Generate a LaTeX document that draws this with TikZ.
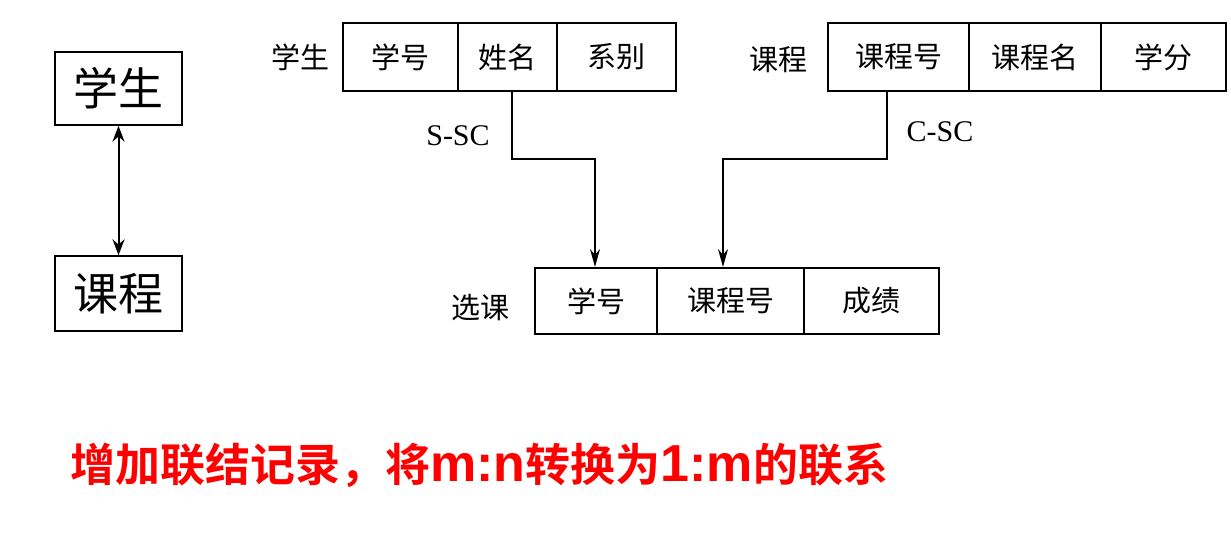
\documentclass[tikz,border=0pt]{standalone}
\usepackage{fontspec}
\setmainfont{Liberation Serif}
\newfontfamily\cjk{Noto Sans CJK SC}
\newfontfamily\cjkb{Noto Sans CJK SC Bold}
\newfontfamily\latb{Liberation Sans}
\usetikzlibrary{arrows.meta}
\begin{document}
\begin{tikzpicture}[x=0.5pt,y=-0.5pt,
  bigbox/.style={draw,line width=0.7pt,minimum width=63.5pt,inner sep=0pt,font=\cjk\fontsize{22.5}{22.5}\selectfont},
  cell/.style={draw,line width=1pt,inner sep=0pt,minimum height=34pt,font=\cjk\fontsize{14.5}{14.5}\selectfont},
  lbl/.style={inner sep=0pt,font=\cjk\fontsize{14.5}{14.5}\selectfont},
  rel/.style={inner sep=0pt,font=\fontsize{15}{15}\selectfont},
  conn/.style={line width=0.8pt,-{Stealth[length=9pt,width=5pt]}},
  dbl/.style={line width=1pt,{Stealth[length=8pt,width=6pt]}-{Stealth[length=8pt,width=6pt]}}]
\useasboundingbox (0,0) rectangle (1231,553);
% left boxes
\node[bigbox,minimum height=36.5pt] (stu) at (118.5,88.5) {学生};
\node[bigbox,minimum height=37.5pt] (cou) at (118.5,293.5) {课程};
\draw[dbl] (stu.south) -- (cou.north);
% student table
\node[lbl] (lstu) at (300,57) {学生};
\node[cell,minimum width=57.5pt] (s1) at (400.5,57) {学号};
\node[cell,minimum width=49.5pt] (s2) at (507.5,57) {姓名};
\node[cell,minimum width=59.5pt] (s3) at (616.5,57) {系别};
% course table
\node[lbl] (lcou) at (778,60) {课程};
\node[cell,minimum width=70.5pt] (c1) at (898.5,57) {课程号};
\node[cell,minimum width=66pt] (c2) at (1035,57) {课程名};
\node[cell,minimum width=62.5pt] (c3) at (1163.5,57) {学分};
% selection table
\node[lbl] (lsel) at (480,308) {选课};
\node[cell,minimum width=61pt,minimum height=33pt] (x1) at (596,301) {学号};
\node[cell,minimum width=73.5pt,minimum height=33pt] (x2) at (730.5,301) {课程号};
\node[cell,minimum width=67.5pt,minimum height=33pt] (x3) at (871.5,301) {成绩};
% connectors
\coordinate (b1) at (595,159);
\coordinate (b2) at (723,159);
\draw[conn] ([xshift=2.25pt]s2.south) |- (b1) -- (b1 |- x1.north);
\draw[conn] ([xshift=-5.75pt]c1.south) |- (b2) -- (b2 |- x2.north);
\node[rel] (ssc) at (458,136) {S-SC};
\node[rel] (csc) at (940,132) {C-SC};
% red caption
\node[anchor=west,inner sep=0pt,text=red,font=\cjkb\fontsize{22.5}{22.5}\selectfont] (cap) at (70,465)
  {增加联结记录，将{\latb\bfseries\fontsize{26}{26}\selectfont m:n}转换为{\latb\bfseries\fontsize{26}{26}\selectfont 1:m}的联系};
\end{tikzpicture}
\end{document}
